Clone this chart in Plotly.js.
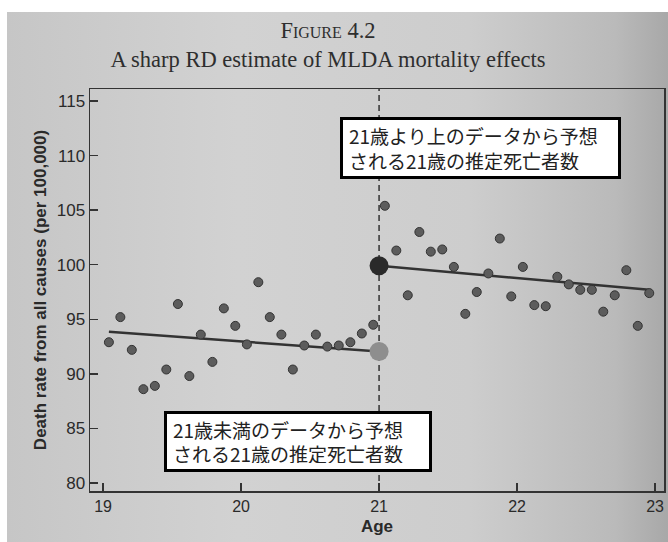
<!DOCTYPE html>
<html>
<head>
<meta charset="utf-8">
<script src="https://cdn.plot.ly/plotly-3.0.1.min.js"></script>
<style>
  html, body { margin: 0; padding: 0; background: #ffffff; }
  #bg { position: absolute; left: 7px; top: 12px; width: 661px; height: 530px;
        background: linear-gradient(to right, #c6c6c6 0%, #d2d2d2 35%, #cdcdcd 70%, #bababa 92%, #a8a8a8 100%); }
  #chart { position: absolute; left: 0; top: 0; width: 668px; height: 542px; }
</style>
</head>
<body>
<div id="bg"></div>
<div id="chart"></div>
<script>
// Monthly age bins below 21
const ageBelow = [19.042, 19.125, 19.208, 19.292, 19.375, 19.458, 19.542, 19.625, 19.708, 19.792, 19.875, 19.958,
                  20.042, 20.125, 20.208, 20.292, 20.375, 20.458, 20.542, 20.625, 20.708, 20.792, 20.875, 20.958];
const rateBelow = [92.9, 95.2, 92.2, 88.6, 88.9, 90.4, 96.4, 89.8, 93.6, 91.1, 96.0, 94.4,
                   92.7, 98.4, 95.2, 93.6, 90.4, 92.6, 93.6, 92.5, 92.6, 92.9, 93.7, 94.5];
// Monthly age bins above 21
const ageAbove = [21.042, 21.125, 21.208, 21.292, 21.375, 21.458, 21.542, 21.625, 21.708, 21.792, 21.875, 21.958,
                  22.042, 22.125, 22.208, 22.292, 22.375, 22.458, 22.542, 22.625, 22.708, 22.792, 22.875, 22.958];
const rateAbove = [105.4, 101.3, 97.2, 103.0, 101.2, 101.4, 99.8, 95.5, 97.5, 99.2, 102.4, 97.1,
                   99.8, 96.3, 96.2, 98.9, 98.2, 97.7, 97.7, 95.7, 97.2, 99.5, 94.4, 97.4];
// Fitted lines
const fitBelowX = [19.042, 21];
const fitBelowY = [93.85, 92.05];
const fitAboveX = [21, 22.958];
const fitAboveY = [99.9, 97.7];
// Estimates at the cutoff
const cutoff = [21];
const estBelow = [92.05];
const estAbove = [99.9];
// Ticks and text
const xTicks = [19, 20, 21, 22, 23];
const yTicks = [80, 85, 90, 95, 100, 105, 110, 115];
const titleLine1 = "F<span style='font-size:16px'>IGURE</span> 4.2";
const titleLine2 = "A sharp RD estimate of MLDA mortality effects";
const xTitle = "Age";
const yTitle = "Death rate from all causes (per 100,000)";
const noteAbove = "21歳より上のデータから予想<br>される21歳の推定死亡者数";
const noteBelow = "21歳未満のデータから予想<br>される21歳の推定死亡者数";

const ink = '#2a2a2a';
const dotStyle = {size: 9, color: '#5c5c5c', line: {color: '#333333', width: 1}};

const traces = [
  {x: fitBelowX, y: fitBelowY, mode: 'lines', line: {color: '#333333', width: 2.5}, hoverinfo: 'skip'},
  {x: fitAboveX, y: fitAboveY, mode: 'lines', line: {color: '#333333', width: 2.5}, hoverinfo: 'skip'},
  {x: ageBelow, y: rateBelow, mode: 'markers', marker: dotStyle},
  {x: ageAbove, y: rateAbove, mode: 'markers', marker: dotStyle},
  {x: cutoff, y: estBelow, mode: 'markers', marker: {size: 19, color: '#8e8e8e', line: {width: 0}}},
  {x: cutoff, y: estAbove, mode: 'markers', marker: {size: 19, color: '#2a2a2a', line: {width: 0}}}
];

const axisCommon = {
  showline: true, mirror: true, linecolor: '#333333', linewidth: 1.5,
  ticks: 'inside', ticklen: 8, tickwidth: 1.5, tickcolor: '#333333',
  showgrid: false, zeroline: false
};

const layout = {
  width: 668, height: 542,
  margin: {l: 90, r: 4, t: 89, b: 51},
  paper_bgcolor: 'rgba(0,0,0,0)',
  plot_bgcolor: 'rgba(0,0,0,0)',
  showlegend: false,
  title: {
    text: titleLine1 + '<br>' + titleLine2,
    font: {family: 'Liberation Serif, Times New Roman, serif', size: 22.5, color: '#2e2e2e'},
    x: 0.491, xref: 'container', xanchor: 'center',
    y: 0.93, yref: 'container', yanchor: 'top'
  },
  xaxis: Object.assign({}, axisCommon, {
    range: [18.905, 23.065], tickvals: xTicks, ticktext: xTicks.map(String),
    tickfont: {family: 'Liberation Sans, Arial, sans-serif', size: 16, color: ink},
    title: {text: '<b>' + xTitle + '</b>', standoff: 6,
            font: {family: 'Liberation Sans, Arial, sans-serif', size: 17, color: ink}}
  }),
  yaxis: Object.assign({}, axisCommon, {
    range: [79.27, 116.1], tickvals: yTicks, ticktext: yTicks.map(String),
    tickfont: {family: 'Liberation Sans, Arial, sans-serif', size: 17, color: ink},
    title: {text: '<b>' + yTitle + '</b>', standoff: 6,
            font: {family: 'Liberation Sans, Arial, sans-serif', size: 17, color: ink}}
  }),
  shapes: [
    {type: 'line', xref: 'x', yref: 'paper', x0: 21, x1: 21, y0: 0, y1: 1,
     line: {color: '#333333', width: 1.5, dash: '6px,4px'}, layer: 'below'}
  ],
  annotations: [
    {text: noteAbove, xref: 'x', yref: 'y', x: 21.738, y: 110.74, xanchor: 'center', yanchor: 'middle',
     width: 263, height: 44,
     showarrow: false, align: 'left', bgcolor: '#ffffff', bordercolor: '#000000', borderwidth: 3, borderpad: 6,
     font: {family: 'Noto Sans CJK JP, sans-serif', size: 19, color: '#222222'}},
    {text: noteBelow, xref: 'x', yref: 'y', x: 20.409, y: 83.84, xanchor: 'center', yanchor: 'middle',
     width: 250, height: 43,
     showarrow: false, align: 'left', bgcolor: '#ffffff', bordercolor: '#000000', borderwidth: 3, borderpad: 6,
     font: {family: 'Noto Sans CJK JP, sans-serif', size: 19, color: '#222222'}}
  ]
};

Plotly.newPlot('chart', traces, layout, {displayModeBar: false, staticPlot: true});
</script>
</body>
</html>
